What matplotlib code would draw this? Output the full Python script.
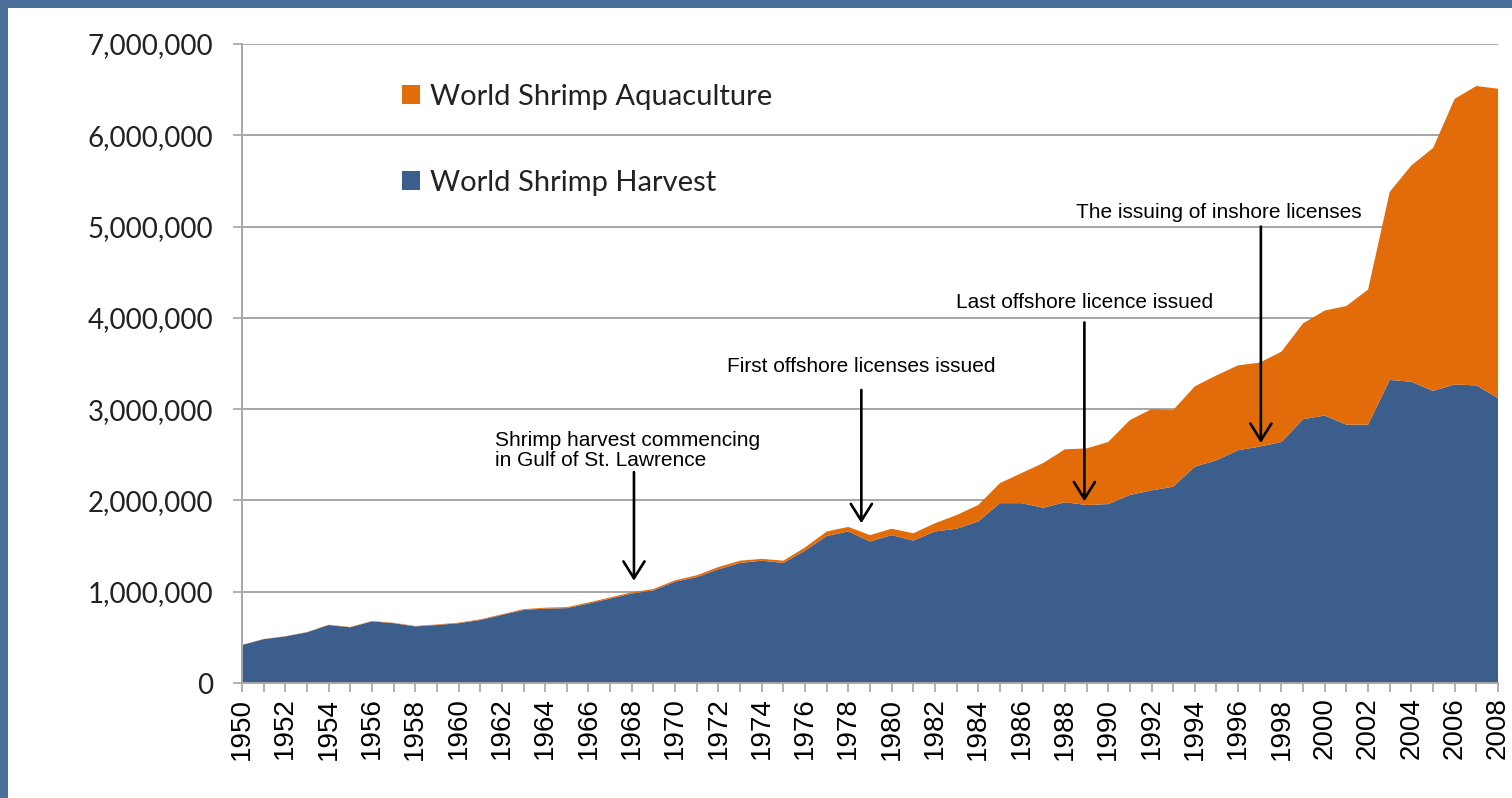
import matplotlib.pyplot as plt
from matplotlib.patches import Rectangle, Patch

years = list(range(1950, 2009))

# world shrimp harvest (wild capture), tonnes
harvest = [416000, 480000, 510000, 555000, 635000, 610000, 675000, 655000, 620000, 635000,
           655000, 690000, 745000, 800000, 815000, 820000, 870000, 925000, 980000, 1015000,
           1110000, 1160000, 1245000, 1315000, 1340000, 1315000, 1450000, 1610000, 1660000, 1550000,
           1620000, 1560000, 1660000, 1690000, 1770000, 1970000, 1970000, 1920000, 1980000, 1950000,
           1960000, 2060000, 2110000, 2150000, 2370000, 2440000, 2550000, 2590000, 2640000, 2890000,
           2930000, 2830000, 2830000, 3320000, 3300000, 3200000, 3270000, 3260000, 3120000]

# world shrimp aquaculture, tonnes
aquaculture = [2000, 2000, 3000, 3000, 3000, 4000, 4000, 5000, 5000, 6000,
               6000, 7000, 8000, 9000, 10000, 11000, 12000, 13000, 14000, 15000,
               15000, 20000, 25000, 25000, 20000, 25000, 35000, 50000, 50000, 70000,
               70000, 80000, 90000, 150000, 180000, 220000, 330000, 490000, 580000, 620000,
               680000, 820000, 890000, 840000, 880000, 930000, 930000, 920000, 990000, 1050000,
               1150000, 1300000, 1480000, 2060000, 2370000, 2660000, 3130000, 3280000, 3390000]

yticks = [0, 1000000, 2000000, 3000000, 4000000, 5000000, 6000000, 7000000]

notes = [
    ("Shrimp harvest commencing\nin Gulf of St. Lawrence", 1961.7, 2550000, "left", 1968.1, 2310000, 1120000),
    ("First offshore licenses issued", 1978.6, 3470000, "center", 1978.6, 3210000, 1750000),
    ("Last offshore licence issued", 1988.9, 4170000, "center", 1988.9, 3950000, 1990000),
    ("The issuing of inshore licenses", 1995.1, 5150000, "center", 1997.05, 5000000, 2630000),
]

blue = "#3B5E8C"
orange = "#E36C0A"
grid_gray = "#A6A6A6"

fig = plt.figure(figsize=(15.12, 7.98), dpi=100)
fig.patch.set_facecolor("white")
# blue frame on top and left edge
fig.patches.append(Rectangle((0, 1 - 8 / 798), 1, 8 / 798, transform=fig.transFigure,
                             facecolor="#4A6F98", edgecolor="none", zorder=0))
fig.patches.append(Rectangle((0, 0), 8 / 1512, 1, transform=fig.transFigure,
                             facecolor="#4A6F98", edgecolor="none", zorder=0))

ax = fig.add_axes([242 / 1512, 115 / 798, 1256 / 1512, 639 / 798])
ax.stackplot(years, harvest, aquaculture, colors=[blue, orange], zorder=2)

ax.set_xlim(1950, 2008)
ax.set_ylim(0, 7000000)
ax.set_yticks(yticks)
ax.set_yticklabels([f"{v:,}" for v in yticks], fontfamily="Lato", fontsize=20, color="#222222")
ax.set_xticks(years, minor=True)
ax.set_xticks(years[::2])
ax.set_xticklabels([str(y) for y in years[::2]], rotation=90, fontfamily="Liberation Sans",
                   fontsize=20, color="black")

ax.grid(axis="y", color=grid_gray, lw=1.4, zorder=1)
ax.set_axisbelow(True)
for s in ["top", "right"]:
    ax.spines[s].set_visible(False)
for s in ["left", "bottom"]:
    ax.spines[s].set_color(grid_gray)
    ax.spines[s].set_linewidth(1.4)
ax.tick_params(axis="y", length=6.5, width=1.2, color=grid_gray, pad=14)
ax.tick_params(axis="x", which="both", length=6.5, width=1.2, color=grid_gray, pad=4)

for txt, tx, ty, ha, axx, y0, y1 in notes:
    ax.text(tx, ty, txt, ha=ha, va="center", fontfamily="Liberation Sans", fontsize=15,
            color="black", linespacing=1.05, zorder=5)
    ax.annotate("", xy=(axx, y1), xytext=(axx, y0),
                arrowprops=dict(arrowstyle="->,head_length=0.32,head_width=0.2", color="black",
                                lw=1.9, mutation_scale=38, shrinkA=0, shrinkB=0), zorder=5)

handles = [Patch(facecolor=orange, label="World Shrimp Aquaculture"),
           Patch(facecolor=blue, label="World Shrimp Harvest")]
leg = ax.legend(handles=handles, loc="upper left", bbox_to_anchor=(0.118, 0.956),
                frameon=False, prop={"family": "Lato", "size": 21},
                handlelength=0.62, handleheight=0.62, handletextpad=0.35,
                labelspacing=2.05, borderaxespad=0)
for t in leg.get_texts():
    t.set_color("#222222")

fig.savefig("out.png", dpi=100)
